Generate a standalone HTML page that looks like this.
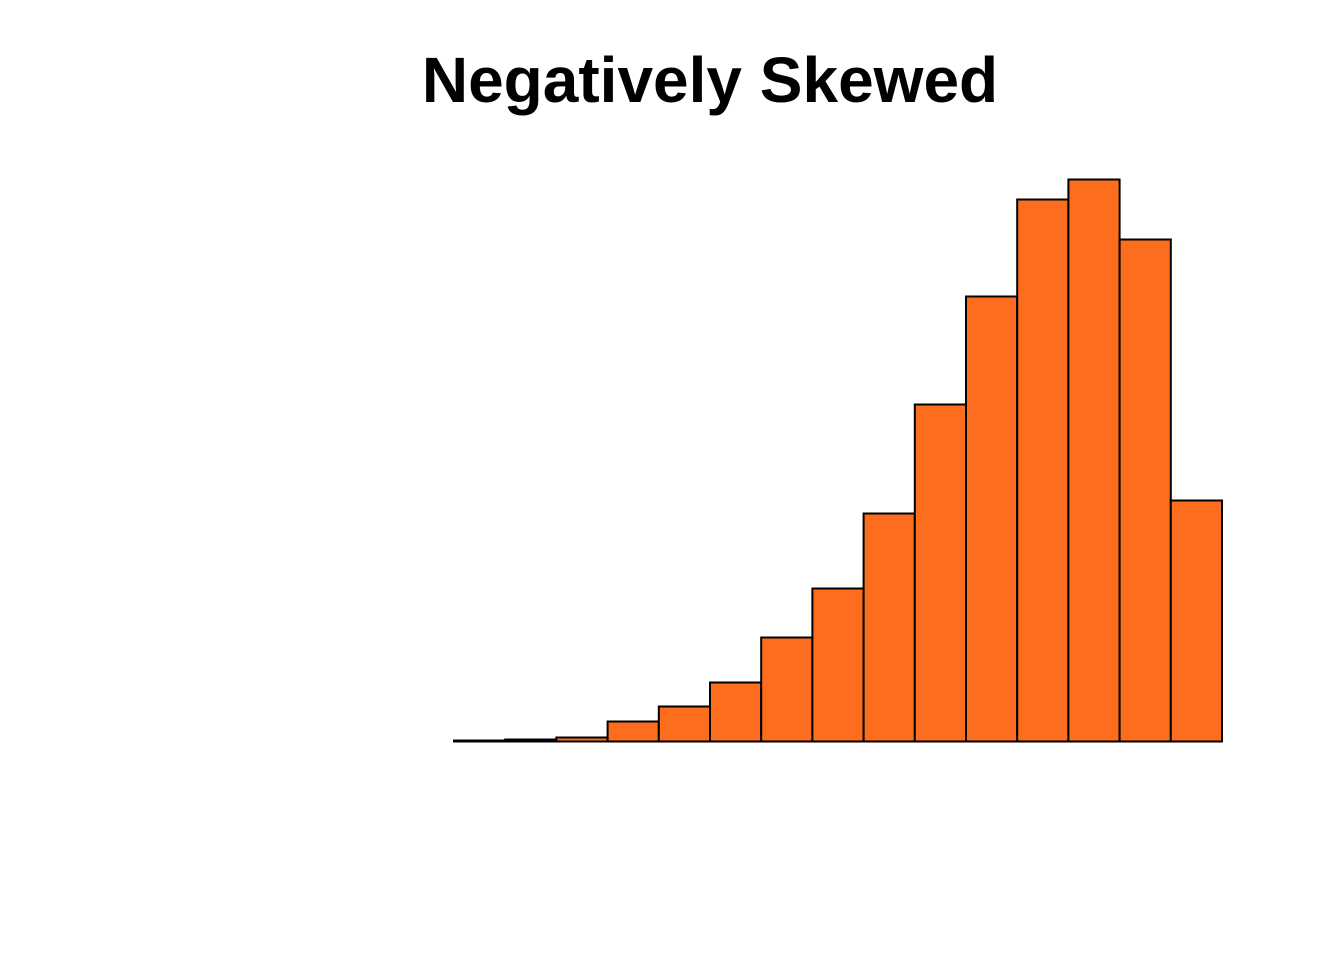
<!DOCTYPE html>
<html><head><meta charset="utf-8"><style>
html,body{margin:0;padding:0;background:#fff;}
svg{display:block;}
</style></head><body>
<svg id="chart" width="1344" height="960" viewBox="0 0 1344 960" xmlns="http://www.w3.org/2000/svg">
<text x="710" y="102" text-anchor="middle" font-family="Liberation Sans, sans-serif" font-weight="bold" font-size="64">Negatively Skewed</text>
<g id="bars"></g>
</svg>
<script>
const binEdges = [0,1,2,3,4,5,6,7,8,9,10,11,12,13,14,15];
const counts = [1,2,4,20,35,59,104,153,228,337,445,542,562,502,241];
const x0 = 454, x1 = 1222, baseY = 741.5, pxPerCount = 1.0;
function xScale(v){ return x0 + (v - binEdges[0]) / (binEdges[binEdges.length-1] - binEdges[0]) * (x1 - x0); }
function yScale(c){ return baseY - c * pxPerCount; }
const g = document.getElementById('bars');
const ns = 'http://www.w3.org/2000/svg';
for (let i = 0; i < counts.length; i++) {
  const r = document.createElementNS(ns, 'rect');
  const xa = xScale(binEdges[i]), xb = xScale(binEdges[i+1]);
  const y = yScale(counts[i]);
  r.setAttribute('x', xa);
  r.setAttribute('y', y);
  r.setAttribute('width', xb - xa);
  r.setAttribute('height', baseY - y);
  r.setAttribute('fill', '#fc6d1e');
  r.setAttribute('stroke', '#000');
  r.setAttribute('stroke-width', '2');
  
  
  g.appendChild(r);
}
</script>
</body></html>
